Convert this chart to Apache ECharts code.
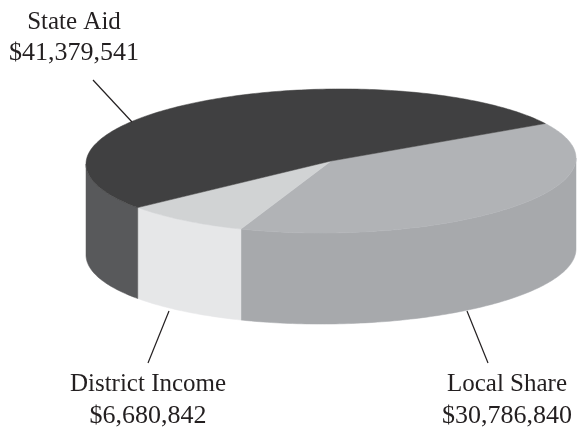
<!DOCTYPE html>
<html>
<head>
<meta charset="utf-8">
<style>html,body{margin:0;padding:0;background:#fff}#chart{width:581px;height:429px}</style>
<script src="https://cdn.jsdelivr.net/npm/echarts@6/dist/echarts.min.js"></script>
</head>
<body>
<div id="chart"></div>
<script>
// slices, clockwise from the back right
const names = ['Local Share', 'District Income', 'State Aid'];
const amounts = [30786840, 6680842, 41379541];
const topColors = ['#b1b3b6', '#d1d3d4', '#404041'];
const wallColors = ['#a7a9ac', '#e6e7e8', '#58595b'];

// where the flattened disc sits on the page
const cx = 331, cy = 161, rx = 245, ry = 72, depth = 91;
const tilt = -0.012;
const startDeg = -29;

// label centre x, two text lines y, leader line ends
const labelX = [507, 148, 74];
const labelY = [[384, 416], [384, 416], [22, 53]];
const lineFonts = ['25px "Liberation Serif"', '26px "Liberation Serif"'];
const leaders = [
  [[467, 311], [488, 363]],
  [[169, 311], [148, 363]],
  [[93, 80], [132, 122]]
];

const total = amounts.reduce((a, b) => a + b, 0);

function rim(deg, drop) {
  const t = deg * Math.PI / 180;
  const x = rx * Math.cos(t);
  return [cx + x, cy + ry * Math.sin(t) + x * tilt + drop];
}

function arc(from, to, drop) {
  const pts = [];
  for (let d = from; d < to; d += 1) pts.push(rim(d, drop));
  pts.push(rim(to, drop));
  return pts;
}

function renderSlice(params) {
  const i = params.dataIndex;
  let from = startDeg;
  for (let k = 0; k < i; k++) from += amounts[k] / total * 360;
  const to = from + amounts[i] / total * 360;
  const children = [];

  // front wall, only the part facing the viewer
  const a = Math.max(from, 0), b = Math.min(to, 180);
  if (b > a) {
    const wall = arc(a, b, 0).concat(arc(a, b, depth).reverse());
    children.push({
      type: 'polygon',
      shape: { points: wall },
      style: { fill: wallColors[i], stroke: wallColors[i], lineWidth: 0.5 }
    });
  }

  children.push({
    type: 'polygon',
    shape: { points: [[cx, cy]].concat(arc(from, to, 0)) },
    style: { fill: topColors[i], stroke: topColors[i], lineWidth: 0.5 }
  });

  const l = leaders[i];
  children.push({
    type: 'line',
    shape: { x1: l[0][0], y1: l[0][1], x2: l[1][0], y2: l[1][1] },
    style: { stroke: '#231f20', lineWidth: 1.2 }
  });

  const lines = [names[i], '$' + amounts[i].toLocaleString('en-US')];
  lines.forEach((text, n) => {
    children.push({
      type: 'text',
      style: {
        text: text,
        x: labelX[i],
        y: labelY[i][n],
        font: lineFonts[n],
        fill: '#231f20',
        align: 'center',
        verticalAlign: 'middle'
      }
    });
  });

  return { type: 'group', children: children };
}

const chart = echarts.init(document.getElementById('chart'), null, { renderer: 'canvas' });
chart.setOption({
  animation: false,
  backgroundColor: '#fff',
  series: [{
    type: 'custom',
    coordinateSystem: 'none',
    data: amounts,
    renderItem: renderSlice
  }]
});
</script>
</body>
</html>
